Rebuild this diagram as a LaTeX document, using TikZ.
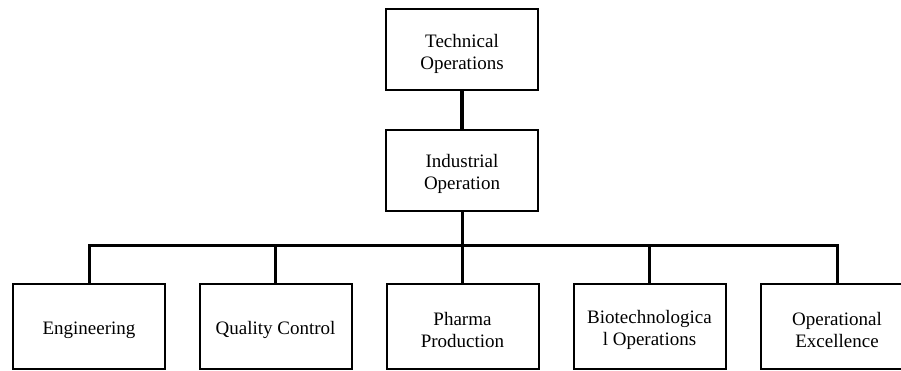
\documentclass[tikz,border=0pt]{standalone}
\usepackage{fontspec}
\setmainfont{Liberation Serif}
\newcommand{\padtop}{\rule{0pt}{21pt}}
\begin{document}
\begin{tikzpicture}[x=1pt,y=-1pt,
  unit/.style={draw=black, line width=2pt, fill=white, rectangle,
    minimum width=152pt, inner sep=0pt, outer sep=0pt, align=center,
    font=\fontsize{19}{22}\selectfont},
  upper/.style={unit, minimum height=81pt},
  lower/.style={unit, minimum height=85pt},
  link/.style={draw=black, line width=3pt}]
\clip (0,0) rectangle (901,371);
\fill[white] (0,0) rectangle (901,371);

% management levels
\node[upper] (tech) at (462,50) {\padtop Technical\\Operations};
\node[upper] (ind)  at (462,170.5) {\padtop Industrial\\Operation};

% departments
\node[lower] (eng)    at (89,326)    {\padtop Engineering};
\node[lower] (qc)     at (275.5,326) {\padtop Quality Control};
\node[lower] (pharma) at (462.5,326) {\padtop Pharma\\Production};
\node[lower] (bio)    at (649.5,326) {\padtop Biotechnologica\\l Operations};
\node[lower] (opex)   at (837,326)   {\padtop Operational\\Excellence};

% reporting lines
\coordinate (bus) at (462,245);
\draw[link, line width=4pt] (tech.south) -- (ind.north);
\draw[link] (ind.south) -- (bus);
\draw[link] (eng.north) |- (bus) -| (opex.north);
\draw[link] (qc.north) -- (qc.north |- bus);
\draw[link] (pharma.north) -- (pharma.north |- bus);
\draw[link] (bio.north) -- (bio.north |- bus);
\end{tikzpicture}
\end{document}
